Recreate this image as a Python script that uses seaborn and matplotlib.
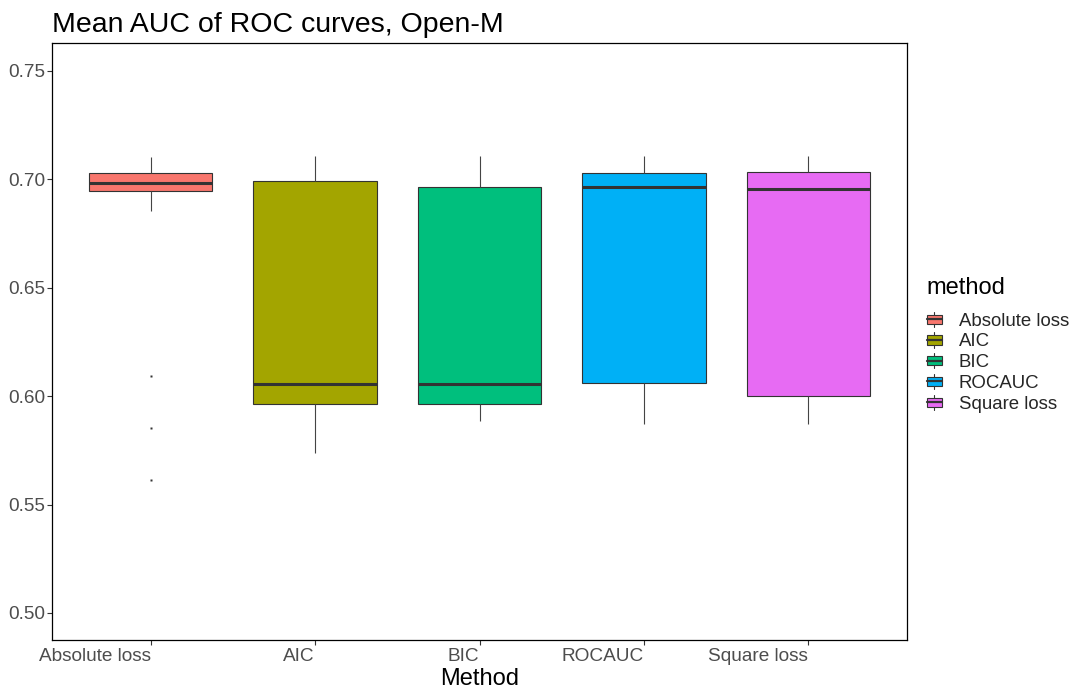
import matplotlib
matplotlib.use("Agg")
import matplotlib.pyplot as plt
from matplotlib.patches import Patch, Rectangle
from matplotlib.lines import Line2D
from matplotlib.legend_handler import HandlerBase
import numpy as np
import pandas as pd
import seaborn as sns

# Mean AUC of ROC curves per selection method (Open-M scenario)
methods = ["Absolute loss", "AIC", "BIC", "ROCAUC", "Square loss"]

absolute_loss = [0.5614, 0.5852, 0.6093, 0.6855, 0.6947, 0.6955, 0.6963, 0.6971,
                 0.6982, 0.6994, 0.7003, 0.7015, 0.7029, 0.7042, 0.7061, 0.7083, 0.7101]
aic = [0.5737, 0.5963, 0.6058, 0.6992, 0.7110]
bic = [0.5883, 0.5963, 0.6058, 0.6964, 0.7110]
rocauc = [0.5872, 0.6061, 0.6963, 0.7030, 0.7110]
square_loss = [0.5871, 0.6001, 0.6955, 0.7032, 0.7110]

colors = ["#F8766D", "#A3A500", "#00BF7D", "#00B0F6", "#E76BF3"]
y_ticks = [0.50, 0.55, 0.60, 0.65, 0.70, 0.75]

samples = [absolute_loss, aic, bic, rocauc, square_loss]
df = pd.DataFrame({
    "method": np.repeat(methods, [len(s) for s in samples]),
    "auc": np.concatenate(samples),
})

sns.set_theme(style="white")
plt.rcParams["font.family"] = ["Liberation Sans", "DejaVu Sans"]

W, H = 1078, 690
fig = plt.figure(figsize=(W / 100, H / 100), dpi=100)
ax = fig.add_axes([52 / W, 1 - 640 / H, 855 / W, 597 / H])

edge = "#333333"
sns.boxplot(
    data=df, x="method", y="auc", hue="method",
    order=methods, hue_order=methods, palette=dict(zip(methods, colors)),
    saturation=1, dodge=False, width=0.75, linecolor=edge, linewidth=0.8,
    fliersize=1.6, legend=False, showcaps=False, ax=ax,
    medianprops={"linewidth": 2.2, "color": edge},
    whiskerprops={"linewidth": 0.8, "color": "#444444"},
    flierprops={"marker": "s", "markerfacecolor": "#333333",
                "markeredgecolor": "none"},
)

ax.set_xlim(-0.6, 4.6)
ax.set_ylim(0.4875, 0.7629)
ax.set_yticks(y_ticks)
ax.set_yticklabels([f"{v:.2f}" for v in y_ticks])
ax.set_xticks(range(len(methods)))
ax.set_xticklabels(methods, ha="right")

for side in ["top", "right", "bottom", "left"]:
    ax.spines[side].set_visible(True)
    ax.spines[side].set_color("black")
    ax.spines[side].set_linewidth(0.9)

ax.tick_params(axis="both", which="major", direction="out", length=3.6,
               width=0.8, color=edge, labelsize=13.7, labelcolor="#4D4D4D",
               bottom=True, left=True)
ax.tick_params(axis="y", pad=1)
ax.tick_params(axis="x", pad=2.5)

ax.set_xlabel("Method", fontsize=17, color="black", labelpad=1.5)
ax.set_ylabel("")
ax.set_title("Mean AUC of ROC curves, Open-M", loc="left", fontsize=20.5,
             color="black", pad=8)


class BoxKeyHandler(HandlerBase):
    def create_artists(self, legend, orig_handle, xdescent, ydescent,
                       width, height, fontsize, trans):
        x0, y0 = -xdescent, -ydescent
        fc = orig_handle.get_facecolor()
        rect = Rectangle((x0, y0 + 0.2 * height), width, 0.6 * height,
                         facecolor=fc, edgecolor=edge, lw=0.8, transform=trans)
        med = Line2D([x0, x0 + width], [y0 + 0.5 * height] * 2,
                     color=edge, lw=1.6, transform=trans)
        cx = x0 + width / 2
        w1 = Line2D([cx, cx], [y0, y0 + 0.2 * height], color=edge, lw=0.8,
                    transform=trans)
        w2 = Line2D([cx, cx], [y0 + 0.8 * height, y0 + height], color=edge,
                    lw=0.8, transform=trans)
        return [rect, med, w1, w2]


# legend title placed on its own, then the keyed entries below it
fig.text(926 / W, 1 - 294 / H, "method", fontsize=17, color="black",
         ha="left", va="baseline")
handles = [Patch(facecolor=c) for c in colors]
leg = fig.legend(
    handles, methods, loc="upper left",
    bbox_to_anchor=(927 / W, 1 - 311.5 / H), frameon=False,
    fontsize=13.4, handlelength=0.8, handleheight=0.9,
    handletextpad=0.9, labelspacing=0.14, borderaxespad=0, borderpad=0,
    handler_map={Patch: BoxKeyHandler()},
)

fig.savefig("out.png", dpi=100, facecolor="white")
